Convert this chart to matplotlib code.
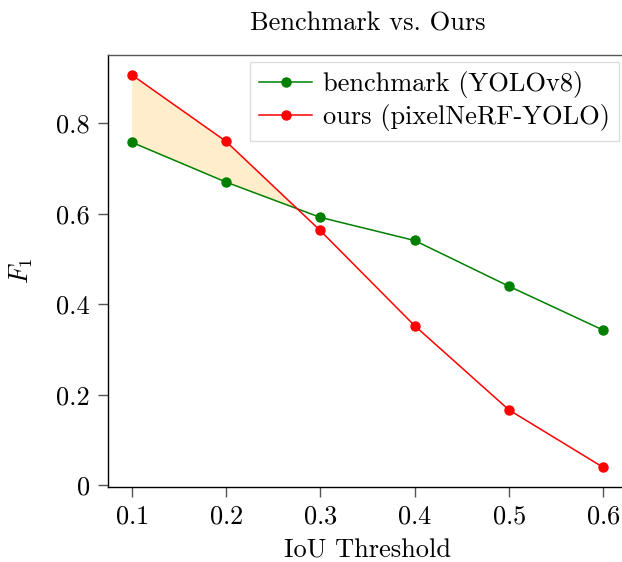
import matplotlib
matplotlib.use("Agg")
import matplotlib.pyplot as plt
import numpy as np
from matplotlib.ticker import FuncFormatter

plt.rcParams["font.family"] = "serif"
plt.rcParams["font.serif"] = ["cmr10", "DejaVu Serif"]
plt.rcParams["mathtext.fontset"] = "cm"
plt.rcParams["axes.formatter.use_mathtext"] = True

# data
iou = [0.1, 0.2, 0.3, 0.4, 0.5, 0.6]
f1_benchmark = [0.758, 0.670, 0.592, 0.541, 0.440, 0.343]
f1_ours = [0.907, 0.760, 0.563, 0.353, 0.167, 0.040]
yticks = [0, 0.2, 0.4, 0.6, 0.8]

fs = 19

fig = plt.figure(figsize=(6.22, 5.62), dpi=100)
ax = fig.add_axes([0.1736, 0.1335, 0.834, 0.7685])

x = np.array(iou)
b = np.array(f1_benchmark)
o = np.array(f1_ours)
ax.fill_between(x, b, o, where=o > b, interpolate=True,
                color="orange", alpha=0.2, linewidth=0)
ax.plot(x, b, "-o", color="green", lw=1.1, ms=6.5, label="benchmark (YOLOv8)")
ax.plot(x, o, "-o", color="red", lw=1.1, ms=6.5, label="ours (pixelNeRF-YOLO)")

ax.set_xticks(iou)
ax.set_yticks(yticks)
ax.yaxis.set_major_formatter(FuncFormatter(lambda v, p: f"{v:g}"))
ax.tick_params(labelsize=fs, length=7, width=1.0, color="#555555", pad=6)

for s in ax.spines.values():
    s.set_linewidth(1.0)
ax.spines["top"].set_color("#555555")

ax.set_title("Benchmark vs. Ours", fontsize=fs, pad=18)
ax.set_xlabel("IoU Threshold", fontsize=fs, labelpad=7)
ax.set_ylabel("$F_1$", fontsize=fs, labelpad=15)

leg = ax.legend(loc="upper right", bbox_to_anchor=(0.985, 0.985), fontsize=fs,
                fancybox=False, framealpha=1, edgecolor="#dddddd",
                handlelength=2.0, handletextpad=0.4, borderpad=0.35,
                labelspacing=0.25, borderaxespad=0)

fig.savefig("out.png", dpi=100)
